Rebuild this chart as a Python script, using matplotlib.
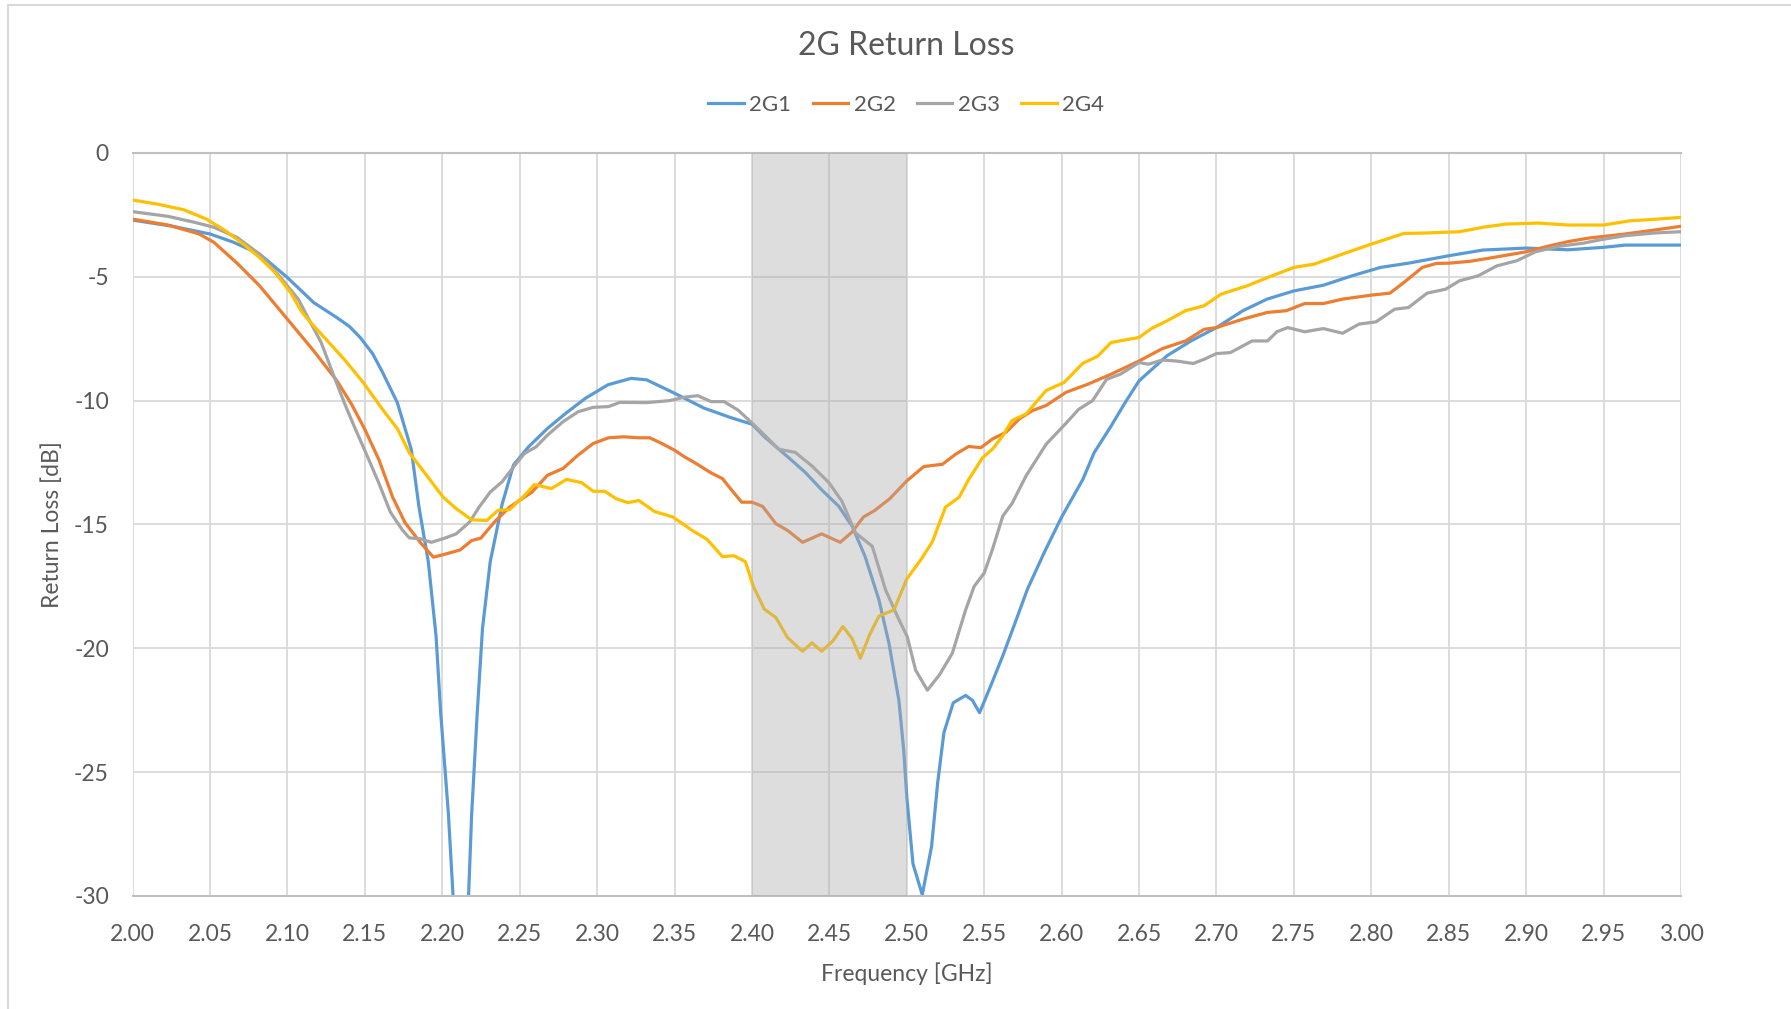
import matplotlib
matplotlib.use("Agg")
import matplotlib.pyplot as plt
from matplotlib.patches import Rectangle

# ---- data (frequency in GHz, return loss in dB) ----
f_2g1 = [2.000, 2.025, 2.050, 2.065, 2.082, 2.100, 2.117, 2.132, 2.140, 2.147, 2.155, 2.161,
         2.171, 2.180, 2.185, 2.191, 2.196, 2.199, 2.204, 2.207, 2.212, 2.217, 2.219, 2.2226,
         2.226, 2.231, 2.2386, 2.246, 2.2558, 2.268, 2.280, 2.2926, 2.307, 2.322, 2.332, 2.350,
         2.369, 2.387, 2.400, 2.4086, 2.4237, 2.4345, 2.445, 2.456, 2.4647, 2.473, 2.482, 2.4885,
         2.4949, 2.498, 2.500, 2.504, 2.510, 2.516, 2.520, 2.524, 2.530, 2.538, 2.5424, 2.547,
         2.5543, 2.562, 2.5696, 2.578, 2.589, 2.600, 2.6137, 2.621, 2.632, 2.641, 2.650, 2.668,
         2.6835, 2.700, 2.717, 2.7327, 2.750, 2.769, 2.7875, 2.806, 2.824, 2.850, 2.872, 2.900,
         2.927, 2.950, 2.964, 3.000]
rl_2g1 = [-2.71, -2.95, -3.27, -3.6, -4.08, -5.03, -6.04, -6.65, -7.0, -7.45, -8.1, -8.8,
          -10.08, -11.97, -14.3, -16.5, -19.5, -22.6, -26.7, -30.0, -34.0, -30.0, -26.7, -22.6,
          -19.2, -16.5, -14.2, -12.6, -11.86, -11.12, -10.5, -9.9, -9.36, -9.1, -9.16, -9.7,
          -10.3, -10.7, -10.95, -11.49, -12.3, -12.9, -13.6, -14.26, -15.07, -16.28, -18.04,
          -19.8, -22.1, -24.1, -26.0, -28.7, -29.95, -28.0, -25.4, -23.4, -22.2, -21.9, -22.1,
          -22.6, -21.5, -20.3, -19.03, -17.6, -16.1, -14.7, -13.18, -12.1, -11.02, -10.08, -9.2,
          -8.19, -7.59, -7.05, -6.37, -5.9, -5.57, -5.34, -4.96, -4.62, -4.45, -4.15, -3.92,
          -3.84, -3.91, -3.81, -3.72, -3.72]

f_2g2 = [2.000, 2.023, 2.043, 2.0526, 2.0675, 2.082, 2.100, 2.117, 2.132, 2.1415, 2.150, 2.159,
         2.168, 2.176, 2.186, 2.1943, 2.200, 2.2115, 2.219, 2.225, 2.2337, 2.2435, 2.258, 2.268,
         2.278, 2.2877, 2.2975, 2.3074, 2.317, 2.327, 2.334, 2.3418, 2.350, 2.3565, 2.364,
         2.3737, 2.381, 2.387, 2.3934, 2.400, 2.4069, 2.4155, 2.423, 2.4327, 2.445, 2.457,
         2.4646, 2.472, 2.4794, 2.489, 2.500, 2.511, 2.523, 2.5316, 2.540, 2.5478, 2.5553,
         2.564, 2.5726, 2.5812, 2.5898, 2.603, 2.6168, 2.632, 2.650, 2.665, 2.680, 2.692, 2.700,
         2.717, 2.7327, 2.745, 2.757, 2.769, 2.7815, 2.800, 2.812, 2.821, 2.833, 2.842, 2.850,
         2.863, 2.875, 2.900, 2.915, 2.927, 2.940, 2.950, 2.964, 2.983, 3.000]
rl_2g2 = [-2.67, -2.91, -3.27, -3.61, -4.45, -5.36, -6.71, -7.99, -9.2, -10.15, -11.16, -12.37,
          -13.9, -14.93, -15.74, -16.32, -16.23, -16.03, -15.65, -15.55, -14.9, -14.3, -13.69,
          -13.01, -12.74, -12.2, -11.73, -11.5, -11.46, -11.5, -11.5, -11.73, -12.0, -12.27,
          -12.54, -12.92, -13.15, -13.62, -14.1, -14.1, -14.27, -14.97, -15.24, -15.72, -15.38,
          -15.72, -15.31, -14.7, -14.43, -13.96, -13.24, -12.66, -12.57, -12.16, -11.85, -11.9,
          -11.55, -11.28, -10.74, -10.4, -10.2, -9.66, -9.34, -8.93, -8.4, -7.9, -7.59, -7.12,
          -7.05, -6.71, -6.44, -6.37, -6.08, -6.08, -5.9, -5.74, -5.66, -5.23, -4.62, -4.46,
          -4.45, -4.38, -4.26, -3.99, -3.75, -3.58, -3.44, -3.37, -3.27, -3.11, -2.96]

f_2g3 = [2.000, 2.023, 2.040, 2.0526, 2.0675, 2.082, 2.0947, 2.107, 2.1144, 2.1218, 2.1292,
         2.1367, 2.144, 2.1516, 2.159, 2.1665, 2.174, 2.1787, 2.186, 2.193, 2.2017, 2.209,
         2.2177, 2.2238, 2.231, 2.2386, 2.246, 2.253, 2.2607, 2.268, 2.278, 2.2877, 2.2975,
         2.3074, 2.3147, 2.332, 2.3467, 2.3565, 2.365, 2.3737, 2.382, 2.391, 2.400, 2.4086,
         2.4173, 2.428, 2.4388, 2.4497, 2.458, 2.4669, 2.4777, 2.4863, 2.495, 2.5003, 2.5057,
         2.5133, 2.521, 2.5294, 2.538, 2.5435, 2.550, 2.5553, 2.562, 2.568, 2.577, 2.590, 2.603,
         2.611, 2.620, 2.629, 2.638, 2.650, 2.656, 2.665, 2.674, 2.685, 2.692, 2.700, 2.709,
         2.723, 2.733, 2.739, 2.746, 2.757, 2.769, 2.7815, 2.792, 2.803, 2.815, 2.824, 2.836,
         2.848, 2.857, 2.869, 2.881, 2.894, 2.906, 2.921, 2.937, 2.950, 2.964, 2.983, 3.000]
rl_2g3 = [-2.37, -2.56, -2.8, -3.0, -3.41, -4.08, -4.96, -5.9, -6.78, -7.65, -8.87, -10.08,
          -11.16, -12.24, -13.32, -14.5, -15.2, -15.54, -15.58, -15.72, -15.55, -15.38, -14.9,
          -14.3, -13.69, -13.28, -12.68, -12.14, -11.86, -11.39, -10.85, -10.45, -10.27, -10.24,
          -10.07, -10.08, -10.0, -9.86, -9.8, -10.04, -10.04, -10.38, -10.9, -11.42, -11.96,
          -12.09, -12.64, -13.31, -14.05, -15.34, -15.88, -17.64, -18.85, -19.53, -20.88, -21.69,
          -21.08, -20.2, -18.45, -17.5, -16.96, -16.01, -14.66, -14.15, -13.04, -11.76, -10.9,
          -10.35, -10.0, -9.14, -8.93, -8.46, -8.53, -8.36, -8.4, -8.5, -8.33, -8.1, -8.06,
          -7.59, -7.59, -7.22, -7.05, -7.22, -7.09, -7.28, -6.91, -6.82, -6.31, -6.24, -5.66,
          -5.5, -5.16, -4.96, -4.56, -4.35, -3.99, -3.77, -3.64, -3.48, -3.34, -3.23, -3.18]

f_2g4 = [2.000, 2.0156, 2.0329, 2.0477, 2.060, 2.0724, 2.082, 2.092, 2.102, 2.1095, 2.117,
         2.1268, 2.1367, 2.149, 2.1614, 2.1713, 2.1787, 2.1886, 2.2005, 2.209, 2.219, 2.2287,
         2.236, 2.2435, 2.2533, 2.2595, 2.2705, 2.2803, 2.290, 2.2975, 2.305, 2.3123, 2.320,
         2.327, 2.3369, 2.349, 2.3614, 2.371, 2.381, 2.3884, 2.3958, 2.4007, 2.408, 2.4155,
         2.423, 2.4327, 2.4388, 2.445, 2.4523, 2.4587, 2.4646, 2.470, 2.476, 2.482, 2.4917,
         2.500, 2.5088, 2.5165, 2.525, 2.5338, 2.540, 2.549, 2.5553, 2.562, 2.568, 2.577, 2.590,
         2.6015, 2.6137, 2.623, 2.632, 2.641, 2.650, 2.658, 2.668, 2.680, 2.692, 2.703, 2.720,
         2.733, 2.750, 2.763, 2.7815, 2.800, 2.821, 2.836, 2.857, 2.872, 2.887, 2.908, 2.927,
         2.950, 2.967, 2.985, 3.000]
rl_2g4 = [-1.9, -2.06, -2.29, -2.67, -3.14, -3.72, -4.22, -4.82, -5.63, -6.44, -6.98, -7.65,
          -8.33, -9.27, -10.35, -11.16, -12.1, -12.91, -13.89, -14.36, -14.81, -14.84, -14.43,
          -14.4, -13.82, -13.39, -13.55, -13.18, -13.31, -13.66, -13.66, -13.96, -14.12, -14.03,
          -14.47, -14.7, -15.24, -15.6, -16.3, -16.26, -16.5, -17.47, -18.42, -18.76, -19.57,
          -20.12, -19.78, -20.12, -19.7, -19.12, -19.6, -20.4, -19.45, -18.7, -18.45, -17.2,
          -16.45, -15.7, -14.3, -13.9, -13.18, -12.3, -11.96, -11.42, -10.8, -10.54, -9.59,
          -9.27, -8.49, -8.22, -7.65, -7.55, -7.45, -7.09, -6.78, -6.37, -6.17, -5.7, -5.36,
          -5.03, -4.62, -4.49, -4.08, -3.68, -3.25, -3.23, -3.18, -3.0, -2.87, -2.83, -2.91,
          -2.91, -2.74, -2.67, -2.6]

series = [("2G1", f_2g1, rl_2g1, "#5B9BD5"),
          ("2G2", f_2g2, rl_2g2, "#ED7D31"),
          ("2G3", f_2g3, rl_2g3, "#A5A5A5"),
          ("2G4", f_2g4, rl_2g4, "#FFC000")]

band = (2.40, 2.50)                       # shaded 2.4 GHz ISM band
x_ticks = [2.00 + 0.05 * i for i in range(21)]
y_ticks = [0, -5, -10, -15, -20, -25, -30]

TXT = "#595959"
plt.rcParams.update({"font.family": ["Lato", "DejaVu Sans"], "axes.unicode_minus": False})

fig = plt.figure(figsize=(17.91, 10.09), dpi=100)
ax = fig.add_axes([0.074, 0.112, 0.8646, 0.7364])

for name, f, rl, col in series:
    ax.plot(f, rl, color=col, lw=2.3, label=name, zorder=2, solid_joinstyle="round")

ax.axvspan(*band, facecolor="#acacac", alpha=0.4, lw=0, zorder=3)

ax.set_xlim(2.0, 3.0); ax.set_ylim(-30, 0)
ax.set_xticks(x_ticks); ax.set_xticklabels([f"{v:.2f}" for v in x_ticks])
ax.set_yticks(y_ticks); ax.set_yticklabels([str(v) for v in y_ticks])
ax.grid(True, color="#d9d9d9", lw=1.3, zorder=0)
ax.set_axisbelow(True)
for s in ("left", "right"):
    ax.spines[s].set_visible(False)
for s in ("top", "bottom"):
    ax.spines[s].set_color("#bfbfbf"); ax.spines[s].set_linewidth(1.5)
ax.tick_params(length=0, labelsize=16.5, labelcolor=TXT)
ax.tick_params(axis="y", pad=17)
ax.tick_params(axis="x", pad=20)

ax.set_xlabel("Frequency [GHz]", fontsize=16.5, color=TXT, labelpad=13)
ax.set_ylabel("Return Loss [dB]", fontsize=16.5, color=TXT, labelpad=8)

fig.text(0.506, 1 - 46 / 1009, "2G Return Loss", ha="center", va="center",
         fontsize=23, color=TXT)
fig.legend(loc="center", bbox_to_anchor=(0.506, 1 - 105 / 1009), ncol=4, frameon=False,
           fontsize=16, labelcolor=TXT, handlelength=1.6, handletextpad=0.25,
           columnspacing=0.95)

# chart-area frame
fig.patches.append(Rectangle((8 / 1791, -0.01), 1.0, 1 - 4.5 / 1009 + 0.01,
                             transform=fig.transFigure, fill=False,
                             edgecolor="#d9d9d9", lw=1.5))

fig.savefig("out.png", dpi=100, facecolor="white")
